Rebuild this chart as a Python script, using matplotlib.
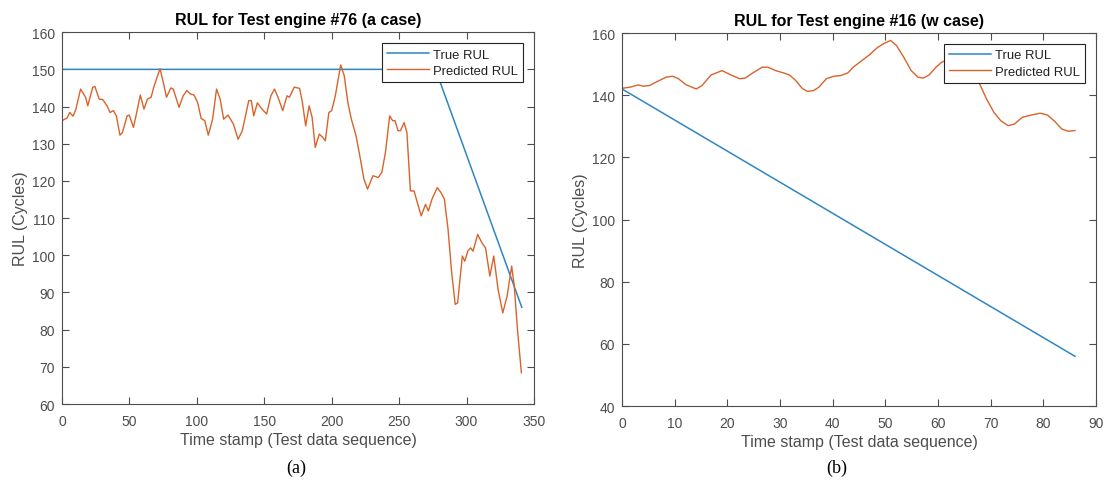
import matplotlib
matplotlib.use("Agg")
import matplotlib.pyplot as plt

# ------------------------------
# DATA
# ------------------------------
# (a) engine #76
a_true_x = [0, 277, 341]
a_true_y = [150, 150, 86]
a_pred_x = [0, 3.7, 5.8, 8.2, 10.3, 13.8, 17.5, 19.1, 22.8, 24.4, 27.6, 30.2, 33.4, 35.6,
            38.2, 40.3, 43, 44.8, 48.3, 49.9, 53, 55.4, 58.1, 60.8, 63.4, 66.1, 68.2, 72.7,
            75.4, 77.5, 80.7, 82.5, 86.8, 89.9, 92.6, 95.2, 97.9, 100.6, 103.2, 105.9, 108.5,
            111.7, 114.6, 117.3, 119.9, 123.1, 127.1, 130.6, 133.7, 136.4, 138.5, 140.4,
            142.2, 144.9, 148.3, 151.8, 154.9, 157.6, 160.2, 163.7, 166.9, 168.7, 172.2,
            176.2, 178.3, 180.7, 183.3, 185.5, 187.8, 190.8, 193.4, 195.3, 197.9, 200,
            202.7, 206.7, 209.3, 212, 214.6, 218.1, 221.3, 223.9, 226.6, 230.6, 234.5,
            237.2, 239.9, 243, 245.2, 247, 249.2, 251, 253.7, 255.8, 258.4, 261.1, 263.2,
            266.4, 269.6, 271.7, 274.4, 278.3, 281, 283.6, 286.3, 289, 291.6, 293.4, 296.9,
            298.7, 300.9, 303, 304.8, 308.3, 311.5, 314.1, 317.3, 320.2, 323.4, 326.9,
            330.1, 333.5, 335.4, 338, 340.7]
a_pred_y = [136.2, 136.9, 138.4, 137.4, 139.3, 144.7, 142.5, 140.2, 145.2, 145.4, 142, 141.9,
            140.2, 138.4, 138.9, 137.5, 132.3, 133, 137.5, 137.7, 134.4, 138.4, 143.1, 139.3,
            142, 142.5, 145.4, 150.2, 146.1, 142.5, 145, 144.7, 139.8, 142.9, 144.3, 143.4,
            143.1, 141.1, 136.8, 136.2, 132.3, 136.6, 144.7, 142, 136.6, 137.7, 135.3, 131.2,
            133.5, 138, 141.6, 141.6, 137.5, 141, 139.3, 138, 142.9, 144.7, 142.5, 138.9,
            142.9, 142.5, 145.2, 144.9, 141.1, 134.8, 140.2, 137.1, 129, 132.6, 131.7, 130.8,
            138.4, 138.9, 142.9, 151.2, 148.3, 141.1, 136.6, 132.1, 125.9, 120.5, 117.8,
            121.4, 120.9, 122.3, 127.7, 137.5, 136.2, 136.2, 133.5, 133.5, 135.7, 133, 117.3,
            117.3, 114.6, 110.6, 113.7, 111.9, 115.1, 118.2, 116.9, 115.1, 107, 95.3, 86.8,
            87.2, 99.8, 98.4, 101.1, 102, 101.1, 105.6, 103.3, 102, 94.4, 99.8, 90.8, 84.5,
            89, 97.1, 91.7, 79.1, 68.4]

# (b) engine #16
b_true_x = [0, 86]
b_true_y = [142, 56]
b_pred_x = [0, 1.6, 3.1, 4, 5.2, 6.7, 8.4, 9.6, 10.7, 12.2, 14.1, 15.2, 16.9, 19, 20.7, 22.3,
            23.4, 24.6, 26.6, 27.7, 29.2, 30.6, 31.8, 33, 34.2, 35.2, 36.4, 37.4, 38.8, 40.2,
            41.5, 42.9, 43.9, 45.6, 47, 48.4, 49.7, 51, 52.1, 53.5, 54.9, 56.2, 57.2, 58.3,
            59.6, 60.7, 62, 64, 66, 67.8, 69.2, 70.6, 71.9, 73.3, 74.5, 76, 77.7, 79.4, 80.8,
            82.2, 83.5, 84.7, 86]
b_pred_y = [142.2, 142.6, 143.3, 142.9, 143.1, 144.4, 145.8, 146.1, 145.3, 143.3, 142, 143.1,
            146.5, 147.9, 146.5, 145.3, 145.5, 146.9, 149, 149, 147.9, 147.2, 146.5, 144.7,
            142.2, 141.2, 141.5, 142.6, 145.3, 146.1, 146.3, 147.2, 149, 151.2, 153, 155.2,
            156.6, 157.6, 156, 152.2, 147.9, 145.8, 145.5, 146.5, 149, 150.6, 151.5, 152,
            150, 144, 138.8, 134.5, 131.8, 130.2, 130.7, 132.9, 133.6, 134.2, 133.6, 131.5,
            129.1, 128.4, 128.6]

BLUE = '#2f86c2'
ORANGE = '#d9632a'
GRAY = '#4d4d4d'

plt.rcParams['font.family'] = ['Liberation Sans', 'DejaVu Sans']

fig = plt.figure(figsize=(11.05, 4.81), dpi=100)
ax1 = fig.add_axes([0.0561, 0.158, 0.4271, 0.773])
ax2 = fig.add_axes([0.5629, 0.1538, 0.429, 0.7755])


def style(ax, title, xlim, ylim, xticks, yticks):
    ax.set_xlim(*xlim)
    ax.set_ylim(*ylim)
    ax.set_xticks(xticks)
    ax.set_yticks(yticks)
    ax.tick_params(direction='in', top=True, right=True, length=5, width=0.8,
                   labelsize=10, colors=GRAY, labelcolor=GRAY)
    ax.tick_params(axis='x', pad=7)
    ax.tick_params(axis='y', pad=5)
    for s in ax.spines.values():
        s.set_color(GRAY)
        s.set_linewidth(0.8)
    ax.set_title(title, fontsize=11.5, fontweight='bold', pad=6)
    ax.set_xlabel('Time stamp (Test data sequence)', fontsize=11.5, color=GRAY, labelpad=3)
    ax.set_ylabel('RUL (Cycles)', fontsize=11.5, color=GRAY, labelpad=3)
    leg = ax.legend(loc='upper right', fontsize=9.4, fancybox=False, framealpha=1,
                    edgecolor='#222222', handlelength=3.2, borderaxespad=0.85,
                    borderpad=0.4, labelspacing=0.3, handletextpad=0.3)
    leg.get_frame().set_linewidth(0.8)
    for t in leg.get_texts():
        t.set_color('#222222')


ax1.plot(a_true_x, a_true_y, color=BLUE, lw=1.1, label='True RUL')
ax1.plot(a_pred_x, a_pred_y, color=ORANGE, lw=1.0, label='Predicted RUL')
style(ax1, 'RUL for Test engine #76 (a case)', (0, 350), (60, 160),
      range(0, 351, 50), range(60, 161, 10))

ax2.plot(b_true_x, b_true_y, color=BLUE, lw=1.1, label='True RUL')
ax2.plot(b_pred_x, b_pred_y, color=ORANGE, lw=1.0, label='Predicted RUL')
style(ax2, 'RUL for Test engine #16 (w case)', (0, 90), (40, 160),
      range(0, 91, 10), range(40, 161, 20))

fig.text(0.2685, 0.026, '(a)', ha='center', va='center', fontsize=13,
         family=['Liberation Serif', 'DejaVu Serif'])
fig.text(0.757, 0.026, '(b)', ha='center', va='center', fontsize=13,
         family=['Liberation Serif', 'DejaVu Serif'])

fig.savefig('out.png', dpi=100)
